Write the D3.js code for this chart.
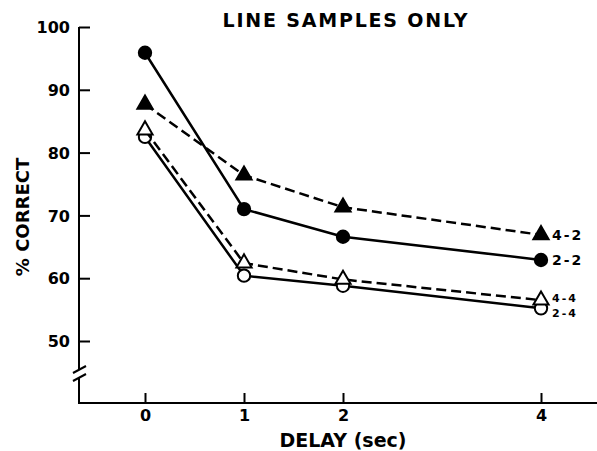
<!DOCTYPE html>
<html>
<head>
<meta charset="utf-8">
<script src="https://cdn.jsdelivr.net/npm/d3@7"></script>
<style>
  body { margin: 0; background: #fff; }
  svg text { font-family: "DejaVu Sans", sans-serif; font-weight: bold; fill: #000; }
</style>
</head>
<body>
<svg id="chart"></svg>
<script>
// Delay vs. % correct, line samples only

const delays = [0, 1, 2, 4];
const yTicks = [50, 60, 70, 80, 90, 100];

const s22 = [95.9, 71.0, 66.6, 62.9];   // filled circle, solid
const s42 = [87.7, 76.4, 71.3, 66.9];   // filled triangle, dashed
const s44 = [83.6, 62.4, 59.8, 56.5];   // open triangle, dashed
const s24 = [82.5, 60.4, 58.8, 55.2];   // open circle, solid

const seriesNames = ["4-2", "2-2", "4-4", "2-4"];

const width = 597, height = 451;

const svg = d3.select("#chart")
    .attr("width", width)
    .attr("height", height);

const x = d3.scaleLinear().domain([0, 4]).range([145, 541]);
const y = d3.scaleLinear().domain([50, 100]).range([341, 27]);

const axisX0 = 79, axisY0 = 403;

// y axis with break
svg.append("line").attr("x1", axisX0).attr("x2", axisX0)
    .attr("y1", y(100)).attr("y2", 369)
    .attr("stroke", "#000").attr("stroke-width", 2);
svg.append("line").attr("x1", axisX0).attr("x2", axisX0)
    .attr("y1", 377).attr("y2", axisY0 + 1)
    .attr("stroke", "#000").attr("stroke-width", 2);
[[73, 373, 86, 366], [73, 381, 86, 374]].forEach(s => {
    svg.append("line")
        .attr("x1", s[0]).attr("y1", s[1]).attr("x2", s[2]).attr("y2", s[3])
        .attr("stroke", "#000").attr("stroke-width", 2);
});

const yAxis = svg.append("g")
    .attr("transform", `translate(${axisX0},0)`)
    .call(d3.axisLeft(y).tickValues(yTicks).tickSizeInner(-11).tickSizeOuter(0).tickPadding(9));
yAxis.select(".domain").remove();
yAxis.selectAll("line").attr("stroke", "#000").attr("stroke-width", 2);
yAxis.selectAll("text").style("font-size", "16px").attr("dy", "0.36em");

// x axis
svg.append("line").attr("x1", axisX0 - 1).attr("x2", 597)
    .attr("y1", axisY0).attr("y2", axisY0)
    .attr("stroke", "#000").attr("stroke-width", 2);

const xAxis = svg.append("g")
    .attr("transform", `translate(0,${axisY0})`)
    .call(d3.axisBottom(x).tickValues(delays).tickFormat(d3.format("d"))
        .tickSizeInner(-10).tickSizeOuter(0).tickPadding(7));
xAxis.select(".domain").remove();
xAxis.selectAll("line").attr("stroke", "#000").attr("stroke-width", 2);
xAxis.selectAll("text").style("font-size", "16px");

// titles
svg.append("text")
    .attr("x", 346).attr("y", 27)
    .attr("text-anchor", "middle")
    .style("font-size", "19px")
    .style("letter-spacing", "1.8px")
    .text("LINE SAMPLES ONLY");

svg.append("text")
    .attr("x", 343).attr("y", 447)
    .attr("text-anchor", "middle")
    .style("font-size", "19px")
    .text("DELAY (sec)");

svg.append("text")
    .attr("transform", "translate(29,217) rotate(-90)")
    .attr("text-anchor", "middle")
    .style("font-size", "18px")
    .text("% CORRECT");

// series
const line = d3.line().x((d, i) => x(delays[i])).y(d => y(d));

const series = [
    { name: "2-4", values: s24, dash: null, shape: "circle", fill: "#fff" },
    { name: "4-4", values: s44, dash: "10,5", shape: "triangle", fill: "#fff" },
    { name: "2-2", values: s22, dash: null, shape: "circle", fill: "#000" },
    { name: "4-2", values: s42, dash: "10,5", shape: "triangle", fill: "#000" }
];

series.forEach(s => {
    svg.append("path")
        .datum(s.values)
        .attr("d", line)
        .attr("fill", "none")
        .attr("stroke", "#000")
        .attr("stroke-width", 2.5)
        .attr("stroke-dasharray", s.dash);

    const sym = d3.symbol()
        .type(s.shape === "circle" ? d3.symbolCircle : d3.symbolTriangle)
        .size(s.shape === "circle" ? 120 : 100);

    svg.selectAll(null)
        .data(s.values)
        .enter().append("path")
        .attr("d", sym)
        .attr("transform", (d, i) => `translate(${x(delays[i])},${y(d)})`)
        .attr("fill", s.fill)
        .attr("stroke", "#000")
        .attr("stroke-width", 2);
});

// end labels (the two lower ones sit stacked, as in the original)
const labelInfo = {
    "4-2": { v: s42[3], dy: 5, size: 14 },
    "2-2": { v: s22[3], dy: 5, size: 14 },
    "4-4": { v: s44[3], dy: 2, size: 11 },
    "2-4": { v: s24[3], dy: 9, size: 11 }
};
seriesNames.forEach(n => {
    const info = labelInfo[n];
    svg.append("text")
        .attr("x", 552).attr("y", y(info.v) + info.dy)
        .style("font-size", info.size + "px")
        .style("letter-spacing", "2px")
        .text(n);
});
</script>
</body>
</html>
